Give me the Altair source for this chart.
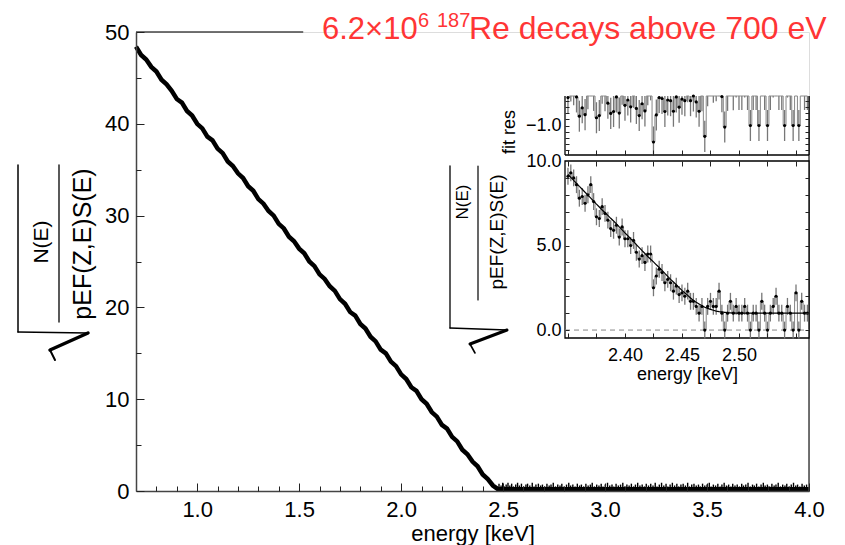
import altair as alt
import pandas as pd

W, H = 673, 459
FONT = "Liberation Sans"

# ---------------- main Kurie plot data ----------------
MAIN_E = [0.700, 0.725, 0.750, 0.775, 0.800, 0.825, 0.850, 0.875, 0.900, 0.925,
          0.950, 0.975, 1.000, 1.025, 1.050, 1.075, 1.100, 1.125, 1.150, 1.175,
          1.200, 1.225, 1.250, 1.275, 1.300, 1.325, 1.350, 1.375, 1.400, 1.425,
          1.450, 1.475, 1.500, 1.525, 1.550, 1.575, 1.600, 1.625, 1.650, 1.675,
          1.700, 1.725, 1.750, 1.775, 1.800, 1.825, 1.850, 1.875, 1.900, 1.925,
          1.950, 1.975, 2.000, 2.025, 2.050, 2.075, 2.100, 2.125, 2.150, 2.175,
          2.200, 2.225, 2.250, 2.275, 2.300, 2.325, 2.350, 2.375, 2.400, 2.425,
          2.450, 2.475, 4.000]
MAIN_V = [48.4, 47.5, 47.0, 46.2, 45.7, 44.8, 44.3, 43.6, 42.7, 42.3,
          41.4, 40.9, 40.0, 39.5, 38.6, 38.2, 37.3, 36.8, 35.9, 35.4,
          34.6, 34.1, 33.2, 32.7, 31.8, 31.3, 30.5, 30.0, 29.1, 28.6,
          27.7, 27.2, 26.4, 25.9, 25.0, 24.5, 23.6, 23.1, 22.3, 21.8,
          20.9, 20.4, 19.5, 19.1, 18.2, 17.7, 16.8, 16.3, 15.4, 15.0,
          14.1, 13.6, 12.7, 12.2, 11.3, 10.9, 10.0, 9.5, 8.6, 8.1,
          7.2, 6.8, 5.9, 5.4, 4.5, 4.0, 3.2, 2.7, 1.8, 1.3,
          0.6, 0.2, 0.2]
TAIL_E = [2.480, 2.490, 2.498, 2.506, 2.515, 2.524, 2.533, 2.542, 2.551, 2.562, 2.571, 2.580,
          2.590, 2.601, 2.612, 2.620, 2.631, 2.643, 2.652, 2.661, 2.673, 2.684, 2.693, 2.704,
          2.715, 2.726, 2.735, 2.746, 2.757, 2.768, 2.779, 2.788, 2.799, 2.811, 2.822, 2.831,
          2.842, 2.853, 2.864, 2.875, 2.884, 2.895, 2.906, 2.917, 2.928, 2.937, 2.948, 2.959,
          2.970, 2.981, 2.990, 3.001, 3.012, 3.023, 3.034, 3.043, 3.054, 3.065, 3.076, 3.087,
          3.096, 3.107, 3.118, 3.129, 3.140, 3.149, 3.160, 3.171, 3.182, 3.193, 3.202, 3.213,
          3.224, 3.235, 3.246, 3.255, 3.266, 3.277, 3.288, 3.299, 3.308, 3.319, 3.330, 3.341,
          3.352, 3.361, 3.372, 3.383, 3.394, 3.405, 3.414, 3.425, 3.436, 3.447, 3.458, 3.467,
          3.478, 3.489, 3.500, 3.511, 3.520, 3.531, 3.542, 3.553, 3.564, 3.573, 3.584, 3.595,
          3.606, 3.617, 3.626, 3.637, 3.648, 3.659, 3.670, 3.679, 3.690, 3.701, 3.712, 3.723,
          3.732, 3.743, 3.754, 3.765, 3.776, 3.785, 3.796, 3.807, 3.818, 3.829, 3.838, 3.849,
          3.860, 3.871, 3.882, 3.891, 3.902, 3.913, 3.924, 3.935, 3.944, 3.955, 3.966, 3.977, 3.988]
TAIL_H = [0.8, 0.6, 0.9, 0.5, 0.7, 0.9, 0.6, 0.8, 0.5, 0.7, 0.9, 0.6,
          0.8, 0.5, 0.7, 0.8, 0.6, 0.9, 0.5, 0.7, 0.8, 0.6, 0.7, 0.5,
          0.8, 0.6, 0.7, 0.9, 0.5, 0.7, 0.6, 0.8, 0.5, 0.7, 0.9, 0.6,
          0.7, 0.5, 0.8, 0.6, 0.7, 0.5, 0.8, 0.6, 0.7, 0.9, 0.5, 0.7,
          0.6, 0.8, 0.5, 0.7, 0.9, 0.6, 0.7, 0.5, 0.8, 0.6, 0.7, 0.9,
          0.5, 0.7, 0.6, 0.8, 0.5, 0.7, 0.9, 0.6, 0.7, 0.5, 0.8, 0.6,
          0.8, 0.6, 0.9, 0.5, 0.7, 0.9, 0.6, 0.8, 0.5, 0.7, 0.9, 0.6,
          0.8, 0.5, 0.7, 0.8, 0.6, 0.9, 0.5, 0.7, 0.8, 0.6, 0.7, 0.5,
          0.8, 0.6, 0.7, 0.9, 0.5, 0.7, 0.6, 0.8, 0.5, 0.7, 0.9, 0.6,
          0.7, 0.5, 0.8, 0.6, 0.7, 0.5, 0.8, 0.6, 0.7, 0.9, 0.5, 0.7,
          0.6, 0.8, 0.5, 0.7, 0.9, 0.6, 0.7, 0.5, 0.8, 0.6, 0.7, 0.9,
          0.5, 0.7, 0.6, 0.8, 0.5, 0.7, 0.9, 0.6, 0.7, 0.5, 0.8, 0.6, 0.7]
MAIN_X_DOMAIN = [0.7, 4.0]
MAIN_Y_DOMAIN = [0, 50]
MAIN_X_MAJOR = [1.0, 1.5, 2.0, 2.5, 3.0, 3.5, 4.0]
MAIN_X_MINOR = [0.8, 0.9, 1.1, 1.2, 1.3, 1.4, 1.6, 1.7, 1.8, 1.9, 2.1, 2.2, 2.3, 2.4,
                2.6, 2.7, 2.8, 2.9, 3.1, 3.2, 3.3, 3.4, 3.6, 3.7, 3.8, 3.9]
MAIN_Y_MAJOR = [0, 10, 20, 30, 40, 50]
MAIN_Y_MINOR = [5, 15, 25, 35, 45]
FRAME_TOP_END = 1.52
FRAME_RIGHT_END = 43.0

# ---------------- inset data ----------------
INSET_E = [2.3500, 2.3525, 2.3550, 2.3575, 2.3600, 2.3625, 2.3650, 2.3675, 2.3700, 2.3725,
           2.3750, 2.3775, 2.3800, 2.3825, 2.3850, 2.3875, 2.3900, 2.3925, 2.3950, 2.3975,
           2.4000, 2.4025, 2.4050, 2.4075, 2.4100, 2.4125, 2.4150, 2.4175, 2.4200, 2.4225,
           2.4250, 2.4275, 2.4300, 2.4325, 2.4350, 2.4375, 2.4400, 2.4425, 2.4450, 2.4475,
           2.4500, 2.4525, 2.4550, 2.4575, 2.4600, 2.4625, 2.4650, 2.4675, 2.4700, 2.4725,
           2.4750, 2.4775, 2.4800, 2.4825, 2.4850, 2.4875, 2.4900, 2.4925, 2.4950, 2.4975,
           2.5000, 2.5025, 2.5050, 2.5075, 2.5100, 2.5125, 2.5150, 2.5175, 2.5200, 2.5225,
           2.5250, 2.5275, 2.5300, 2.5325, 2.5350, 2.5375, 2.5400, 2.5425, 2.5450, 2.5475,
           2.5500, 2.5525, 2.5550, 2.5575, 2.5600]
INSET_V = [9.1, 9.3, 9.0, 8.6, 7.8, 7.9, 7.5, 8.0, 8.6, 7.6,
           6.7, 6.6, 7.3, 6.9, 6.5, 6.0, 5.9, 6.2, 5.5, 6.1,
           5.4, 5.4, 5.0, 5.3, 4.6, 4.2, 4.4, 4.0, 4.5, 4.5,
           2.5, 3.2, 3.6, 3.4, 2.8, 3.0, 2.8, 2.3, 2.6, 2.1,
           2.2, 2.0, 2.3, 1.7, 1.7, 1.4, 1.0, 1.4, 0.0, 1.4,
           1.7, 1.4, 1.4, 2.3, 1.0, 0.0, 1.0, 1.7, 1.0, 1.4,
           1.0, 1.0, 1.4, 1.0, 0.0, 1.0, 1.0, 0.0, 1.7, 1.0,
           0.0, 1.0, 1.4, 2.0, 1.0, 1.0, 0.0, 1.4, 1.0, 0.0,
           2.2, 0.0, 1.7, 1.0, 1.0]
INSET_FIT = [9.20, 9.03, 8.85, 8.68, 8.50, 8.33, 8.15, 7.98, 7.80, 7.63,
             7.45, 7.28, 7.10, 6.94, 6.78, 6.61, 6.45, 6.28, 6.10, 5.93,
             5.75, 5.58, 5.40, 5.23, 5.05, 4.88, 4.70, 4.53, 4.35, 4.19,
             4.03, 3.86, 3.70, 3.53, 3.35, 3.18, 3.00, 2.84, 2.68, 2.51,
             2.35, 2.20, 2.05, 1.90, 1.75, 1.64, 1.54, 1.44, 1.35, 1.28,
             1.22, 1.17, 1.12, 1.09, 1.07, 1.05, 1.03, 1.02, 1.01, 1.00,
             1.00, 1.00, 1.00, 1.00, 1.00, 1.00, 1.00, 1.00, 1.00, 1.00,
             1.00, 1.00, 1.00, 1.00, 1.00, 1.00, 1.00, 1.00, 1.00, 1.00,
             1.00, 1.00, 1.00, 1.00, 1.00]
ERR = 0.5
INSET_X_DOMAIN = [2.3474, 2.5614]
INSET_Y_DOMAIN = [-0.47, 10.0]
RES_Y_DOMAIN = [-1.95, -0.05]
INSET_X_LABELS = [2.40, 2.45, 2.50]
INSET_X_TICKS = [2.35, 2.375, 2.40, 2.425, 2.45, 2.475, 2.50, 2.525, 2.55]
INSET_Y_LABELS = [0.0, 5.0, 10.0]
INSET_Y_TICKS = [0, 1, 2, 3, 4, 5, 6, 7, 8, 9]
RES_Y_LABELS = [-1.0]
RES_Y_TICKS = [-1.8, -1.6, -1.4, -1.2, -1.0, -0.8, -0.6, -0.4, -0.2]

# ---------------- texts ----------------
TITLE_MAIN = "6.2×10"
TITLE_SUP1 = "6"
TITLE_SUP2 = "187"
TITLE_REST = "Re decays above 700 eV"
NUMERATOR = "N(E)"
DENOMINATOR = "pEF(Z,E)S(E)"
X_TITLE = "energy [keV]"
RES_TITLE = "fit res"
RED = "#ff3535"

# pixel geometry of the inset panels (inside the main plot area)
IN_X_RANGE = [429, 673]
IN_Y_RANGE = [306, 129]
RES_Y_RANGE = [123, 64]


def tick_axis(orient, offset, values, size):
    return alt.Axis(orient=orient, offset=offset, values=values, labels=False,
                    domain=False, ticks=True, tickSize=size, tickColor="#222",
                    tickWidth=1, grid=False, title=None, zindex=2)


# ---------------- main block ----------------
xs_main = alt.Scale(domain=MAIN_X_DOMAIN, nice=False, zero=False)
ys_main = alt.Scale(domain=MAIN_Y_DOMAIN, nice=False, zero=False)

main_df = pd.DataFrame({"E": MAIN_E, "V": MAIN_V})
tail_df = pd.DataFrame({"E": TAIL_E, "H": TAIL_H, "Z": [0.0] * len(TAIL_E)})
top_df = pd.DataFrame({"x": [MAIN_X_DOMAIN[0]], "x2": [FRAME_TOP_END], "y": [MAIN_Y_DOMAIN[1]]})
right_df = pd.DataFrame({"x": [MAIN_X_DOMAIN[1]], "y": [MAIN_Y_DOMAIN[0]], "y2": [FRAME_RIGHT_END]})

main_line = alt.Chart(main_df).mark_line(color="black", strokeWidth=4.5, interpolate="linear").encode(
    x=alt.X("E:Q", scale=xs_main,
            axis=alt.Axis(orient="bottom", values=MAIN_X_MAJOR, format=".1f", ticks=False,
                          tickSize=0, domain=True, domainColor="#444", domainWidth=1.5,
                          labelFontSize=22, labelPadding=8, labelFlush=False,
                          labelOverlap=False, grid=False, title=X_TITLE, titleFontSize=22,
                          titleFontWeight="normal", titlePadding=3, zindex=2)),
    y=alt.Y("V:Q", scale=ys_main,
            axis=alt.Axis(orient="left", values=MAIN_Y_MAJOR, format="d", ticks=False,
                          tickSize=0, domain=True, domainColor="#444", domainWidth=1.5,
                          labelFontSize=22, labelPadding=7, labelOverlap=False,
                          grid=False, title=None, zindex=2)),
)
spikes = alt.Chart(tail_df).mark_rule(color="black", strokeWidth=1.4).encode(
    x=alt.X("E:Q", scale=xs_main, axis=tick_axis("top", -H, MAIN_X_MAJOR, 8)),
    y=alt.Y("Z:Q", scale=ys_main, axis=tick_axis("right", -W, MAIN_Y_MAJOR, 8)),
    y2="H:Q",
)
top_rule = alt.Chart(top_df).mark_rule(color="#444", strokeWidth=1.5).encode(
    x=alt.X("x:Q", scale=xs_main, axis=tick_axis("top", -H, MAIN_X_MINOR, 5)),
    x2="x2:Q",
    y=alt.Y("y:Q", scale=ys_main, axis=tick_axis("right", -W, MAIN_Y_MINOR, 5)),
)
right_rule = alt.Chart(right_df).mark_rule(color="#444", strokeWidth=1.5).encode(
    x=alt.X("x:Q", scale=xs_main, axis=None),
    y=alt.Y("y:Q", scale=ys_main, axis=None),
    y2="y2:Q",
)
main_block = alt.layer(main_line, spikes, top_rule, right_rule).resolve_axis(
    x="independent", y="independent")

# ---------------- inset main panel ----------------
xs_in = alt.Scale(domain=INSET_X_DOMAIN, range=IN_X_RANGE, nice=False, zero=False)
ys_in = alt.Scale(domain=INSET_Y_DOMAIN, range=IN_Y_RANGE, nice=False, zero=False)

inset_df = pd.DataFrame({"E": INSET_E, "V": INSET_V, "F": INSET_FIT})
inset_df["lo"] = inset_df["V"] - ERR
inset_df["hi"] = inset_df["V"] + ERR
inset_df["R"] = inset_df["V"] - inset_df["F"]
inset_df["Rlo"] = inset_df["R"] - ERR
inset_df["Rhi"] = inset_df["R"] + ERR

in_frame = pd.DataFrame({"x1": [INSET_X_DOMAIN[0]], "x2": [INSET_X_DOMAIN[1]],
                         "y1": [INSET_Y_DOMAIN[0]], "y2": [INSET_Y_DOMAIN[1]], "z": [0.0]})

in_bg = alt.Chart(in_frame).mark_rect(fill="white", stroke="black", strokeWidth=1.3).encode(
    x=alt.X("x1:Q", scale=xs_in,
            axis=alt.Axis(orient="bottom", offset=-(H - IN_Y_RANGE[0]), values=INSET_X_LABELS,
                          format=".2f", ticks=False, tickSize=0, domain=False,
                          labelFontSize=18, labelPadding=8, labelFlush=False,
                          labelOverlap=False, grid=False, title=X_TITLE, titleFontSize=18,
                          titleFontWeight="normal", titlePadding=1, zindex=2)),
    x2="x2:Q",
    y=alt.Y("y1:Q", scale=ys_in,
            axis=alt.Axis(orient="left", offset=-IN_X_RANGE[0], values=INSET_Y_LABELS,
                          format=".1f", ticks=False, tickSize=0, domain=False,
                          labelFontSize=18, labelPadding=4, labelOverlap=False,
                          grid=False, title=None, zindex=2)),
    y2="y2:Q",
)
in_zero = alt.Chart(in_frame).mark_rule(color="#888", strokeWidth=1, strokeDash=[5, 4]).encode(
    x=alt.X("x1:Q", scale=xs_in, axis=tick_axis("top", -IN_Y_RANGE[0], INSET_X_TICKS, 5)),
    x2="x2:Q",
    y=alt.Y("z:Q", scale=ys_in, axis=tick_axis("right", -(W - IN_X_RANGE[0]), INSET_Y_TICKS, 4)),
)
in_err = alt.Chart(inset_df).mark_rule(color="#777", strokeWidth=1.3).encode(
    x=alt.X("E:Q", scale=xs_in, axis=tick_axis("bottom", -(H - IN_Y_RANGE[1]), INSET_X_TICKS, 5)),
    y=alt.Y("lo:Q", scale=ys_in, axis=tick_axis("left", -IN_X_RANGE[1], INSET_Y_TICKS, 4)),
    y2="hi:Q",
)
in_step = alt.Chart(inset_df).mark_line(color="#888", strokeWidth=1, interpolate="step").encode(
    x=alt.X("E:Q", scale=xs_in, axis=None),
    y=alt.Y("V:Q", scale=ys_in, axis=None),
)
in_fit = alt.Chart(inset_df).mark_line(color="black", strokeWidth=1.2).encode(
    x=alt.X("E:Q", scale=xs_in, axis=None),
    y=alt.Y("F:Q", scale=ys_in, axis=None),
)
in_pts = alt.Chart(inset_df).mark_circle(color="black", size=10, opacity=1).encode(
    x=alt.X("E:Q", scale=xs_in, axis=None),
    y=alt.Y("V:Q", scale=ys_in, axis=None),
)
inset_block = alt.layer(in_bg, in_zero, in_err, in_step, in_fit, in_pts).resolve_axis(
    x="independent", y="independent")

# ---------------- residual panel ----------------
ys_res = alt.Scale(domain=RES_Y_DOMAIN, range=RES_Y_RANGE, nice=False, zero=False, clamp=True)
xl, xr = INSET_X_DOMAIN
yb, yt = RES_Y_DOMAIN
res_bg_df = pd.DataFrame({"x1": [xl], "x2": [xr], "y1": [yb], "y2": [yt]})
res_edges = pd.DataFrame({"x": [xl, xr, xl], "x2": [xl, xr, xr],
                          "y": [yb, yb, yb], "y2": [yt, yt, yb]})

res_bg = alt.Chart(res_bg_df).mark_rect(fill="white", strokeWidth=0).encode(
    x=alt.X("x1:Q", scale=xs_in, axis=tick_axis("top", -RES_Y_RANGE[0], INSET_X_TICKS, 5)),
    x2="x2:Q",
    y=alt.Y("y1:Q", scale=ys_res,
            axis=alt.Axis(orient="left", offset=-IN_X_RANGE[0], values=RES_Y_LABELS,
                          format=".1f", ticks=False, tickSize=0, domain=False,
                          labelFontSize=18, labelPadding=4, labelOverlap=False,
                          grid=False, title=None, zindex=2)),
    y2="y2:Q",
)
res_frame = alt.Chart(res_edges).mark_rule(color="black", strokeWidth=1.3).encode(
    x=alt.X("x:Q", scale=xs_in, axis=None),
    x2="x2:Q",
    y=alt.Y("y:Q", scale=ys_res, axis=tick_axis("right", -(W - IN_X_RANGE[0]), RES_Y_TICKS, 4)),
    y2="y2:Q",
)
res_err = alt.Chart(inset_df).mark_rule(color="#777", strokeWidth=1.3).encode(
    x=alt.X("E:Q", scale=xs_in, axis=None),
    y=alt.Y("Rlo:Q", scale=ys_res, axis=tick_axis("left", -IN_X_RANGE[1], RES_Y_TICKS, 4)),
    y2="Rhi:Q",
)
res_step = alt.Chart(inset_df).mark_line(color="#888", strokeWidth=1, interpolate="step").encode(
    x=alt.X("E:Q", scale=xs_in, axis=None),
    y=alt.Y("R:Q", scale=ys_res, axis=None),
)
res_pts = alt.Chart(inset_df).transform_filter(
    (alt.datum.R < RES_Y_DOMAIN[1]) & (alt.datum.R > RES_Y_DOMAIN[0])
).mark_circle(color="black", size=10, opacity=1).encode(
    x=alt.X("E:Q", scale=xs_in, axis=None),
    y=alt.Y("R:Q", scale=ys_res, axis=None),
)
res_block = alt.layer(res_bg, res_frame, res_err, res_step, res_pts).resolve_axis(
    x="independent", y="independent")


# ---------------- annotation texts and radical signs ----------------
def text_at(txt, x, y, size, color="black", angle=0, align="left", baseline="alphabetic"):
    return alt.Chart(pd.DataFrame({"t": [txt]})).mark_text(
        font=FONT, fontSize=size, color=color, angle=angle, align=align, baseline=baseline
    ).encode(text="t:N", x=alt.value(x), y=alt.value(y))


def seg(x1, y1, x2, y2, width, color="black"):
    return alt.Chart(pd.DataFrame({"a": [0]})).mark_rule(
        color=color, strokeWidth=width, strokeCap="round").encode(
        x=alt.value(x1), y=alt.value(y1), x2=alt.value(x2), y2=alt.value(y2))


texts = [
    text_at(TITLE_MAIN, 186, 7, 31, RED),
    text_at(TITLE_SUP1, 282, -5, 20, RED),
    text_at(TITLE_SUP2, 301, -5, 20, RED),
    text_at(TITLE_REST, 333, 7, 32, RED),
    # main y title
    text_at(NUMERATOR, -94, 210, 21, angle=270, align="center", baseline="middle"),
    text_at(DENOMINATOR, -53, 212, 25, angle=270, align="center", baseline="middle"),
    seg(-77, 133, -77, 290, 1.3),
    seg(-118, 133, -118, 300, 1.5),
    seg(-118, 300, -48, 301, 1.5),
    seg(-48, 301, -86, 318, 3.5),
    seg(-86, 318, -81, 328, 2),
    # inset y title
    text_at(NUMERATOR, 327, 170, 17, angle=270, align="center", baseline="middle"),
    text_at(DENOMINATOR, 361, 200, 19, angle=270, align="center", baseline="middle"),
    seg(342, 134, 342, 268, 1.2),
    seg(314, 134, 314, 296, 1.3),
    seg(314, 296, 371, 298, 1.3),
    seg(371, 298, 334, 312, 3),
    seg(334, 312, 339, 321, 1.6),
    # residual title
    text_at(RES_TITLE, 379, 122, 18, angle=270, align="left", baseline="alphabetic"),
]

chart = alt.layer(main_block, inset_block, res_block, *texts).resolve_scale(
    x="independent", y="independent"
).properties(
    width=W, height=H,
    autosize=alt.AutoSizeParams(type="none"),
    padding={"left": 136, "top": 32, "right": 36, "bottom": 54},
).configure_view(stroke=None).configure_axis(
    labelFont=FONT, titleFont=FONT, labelColor="black", titleColor="black"
).configure(background="white")

chart.save("out.html", embed_options={"renderer": "svg", "actions": False})
